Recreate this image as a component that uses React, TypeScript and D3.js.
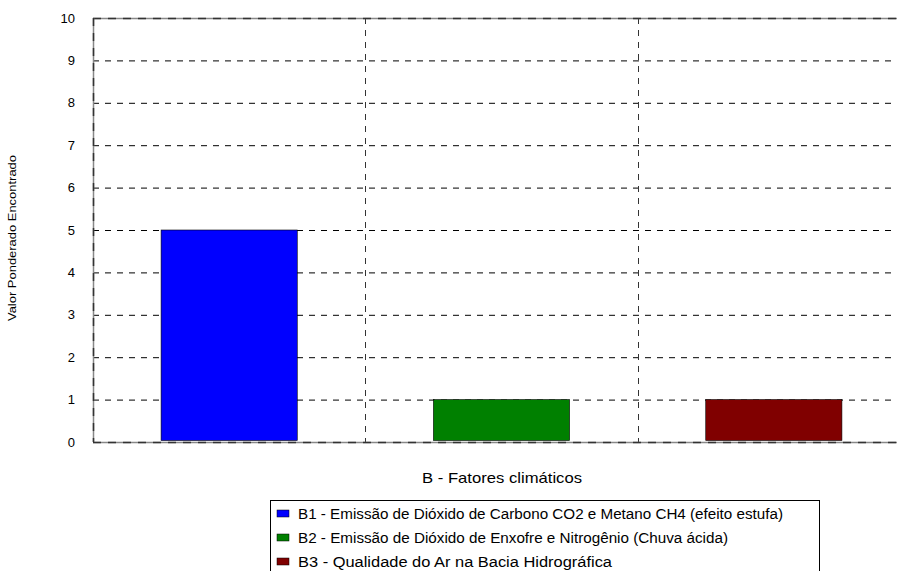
import React from "react";
import * as d3 from "d3";

const categories = ["B1", "B2", "B3"];
const values = [5, 1, 1];
const colors = ["#0000ff", "#008000", "#800000"];
const legendLabels = [
  "B1 - Emissão de Dióxido de Carbono CO2 e Metano CH4 (efeito estufa)",
  "B2 - Emissão de Dióxido de Enxofre e Nitrogênio (Chuva ácida)",
  "B3 - Qualidade do Ar na Bacia Hidrográfica",
];
const legendWidths = [485, 430, 314];
const yTicks = [0, 1, 2, 3, 4, 5, 6, 7, 8, 9, 10];
const xTitle = "B - Fatores climáticos";
const yTitle = "Valor Ponderado Encontrado";

const W = 897;
const H = 571;
const left = 93;
const right = 910;
const top = 18;
const bottom = 442;
const font = "'Liberation Sans', Arial, Helvetica, sans-serif";

export default function App() {
  const x = d3.scaleBand<string>().domain(categories).range([left, right]).paddingInner(0.5).paddingOuter(0.25);
  const band = d3.scaleBand<string>().domain(categories).range([left, right]);
  const y = d3.scaleLinear().domain([0, 10]).range([bottom, top]);

  return (
    <svg width={W} height={H} style={{ position: "absolute", left: 0, top: 0, background: "#fff" }}>
      {/* horizontal grid */}
      {yTicks.map((t) => (
        <line key={"h" + t} x1={left} x2={right} y1={y(t) + 0.5} y2={y(t) + 0.5}
          stroke="#000" strokeWidth={1} strokeDasharray="6 6" />
      ))}
      {/* vertical grid separating categories */}
      {categories.slice(1).map((c) => (
        <line key={"v" + c} x1={Math.round(band(c)!) + 0.5} x2={Math.round(band(c)!) + 0.5} y1={top} y2={bottom}
          stroke="#333" strokeWidth={1} strokeDasharray="6 6" />
      ))}
      {/* bars */}
      {categories.map((c, i) => (
        <rect key={c} x={x(c)!} y={y(values[i])} width={x.bandwidth()} height={y(0) - y(values[i]) - 1.5}
          fill={colors[i]} stroke="#000" strokeWidth={0.6} />
      ))}
      {/* frame */}
      <line x1={left} x2={right} y1={top + 0.5} y2={top + 0.5} stroke="#888" strokeWidth={1.5} />
      <line x1={left} x2={right} y1={top + 0.5} y2={top + 0.5} stroke="#333" strokeWidth={1.5} strokeDasharray="8 7" />
      <line x1={left} x2={right} y1={bottom + 0.5} y2={bottom + 0.5} stroke="#888" strokeWidth={1.5} />
      <line x1={left} x2={right} y1={bottom + 0.5} y2={bottom + 0.5} stroke="#333" strokeWidth={1.5} strokeDasharray="8 7" />
      <line x1={left + 0.5} x2={left + 0.5} y1={top} y2={bottom} stroke="#888" strokeWidth={1.5} />
      <line x1={left + 0.5} x2={left + 0.5} y1={top} y2={bottom} stroke="#333" strokeWidth={1.5} strokeDasharray="8 7" />
      {/* y tick labels */}
      {yTicks.map((t) => (
        <text key={"t" + t} x={75} y={y(t)} dy="0.35em" textAnchor="end"
          fontFamily={font} fontSize={13} fill="#000">{t}</text>
      ))}
      {/* axis titles */}
      <text transform={`translate(16,238) rotate(-90)`} textAnchor="middle"
        fontFamily={font} fontSize={10.5} fill="#000" textLength={166} lengthAdjust="spacingAndGlyphs">{yTitle}</text>
      <text x={502} y={483} textAnchor="middle" fontFamily={font} fontSize={14.5} fill="#000"
        textLength={160} lengthAdjust="spacingAndGlyphs">{xTitle}</text>
      {/* legend */}
      <rect x={270.5} y={500.5} width={549} height={80} fill="#fff" stroke="#000" strokeWidth={1} />
      {legendLabels.map((l, i) => (
        <g key={l} transform={`translate(0,${514 + i * 24})`}>
          <rect x={277} y={-4} width={12} height={7} fill={colors[i]} stroke="#000" strokeWidth={0.5} />
          <text x={298} y={0} dy="0.35em" fontFamily={font} fontSize={14} fill="#000"
            textLength={legendWidths[i]} lengthAdjust="spacingAndGlyphs">{l}</text>
        </g>
      ))}
    </svg>
  );
}
